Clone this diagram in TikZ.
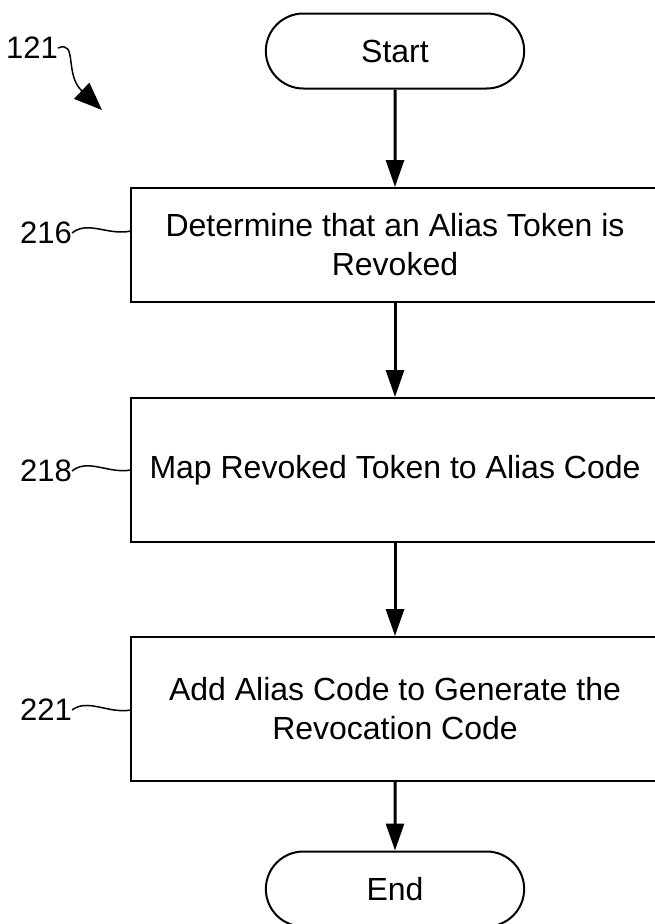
\documentclass[tikz,border=0pt]{standalone}
\usepackage{fontspec}
\setmainfont{Liberation Sans}
\usetikzlibrary{arrows.meta,shapes.misc}

\tikzset{
  terminal/.style={rounded rectangle, draw, line width=2pt, minimum width=265pt, minimum height=75pt, font=\fontsize{32}{38}\selectfont},
  process/.style={rectangle, draw, line width=2pt, minimum width=528pt, align=center, font=\fontsize{32}{39}\selectfont},
  flow/.style={-{Triangle[width=18pt,length=27pt]}, line width=3pt},
  refnum/.style={inner sep=0pt, anchor=east, font=\fontsize{31}{36}\selectfont},
  leader/.style={line width=1.5pt}
}

\begin{document}
\begin{tikzpicture}[x=1pt,y=-1pt]
  \useasboundingbox (0,0) rectangle (655,924);
% the steps of the flow
  \node[terminal] (start) at (395,51)    {Start};
  \node[process, minimum height=114pt] (determine) at (395,245) {Determine that an Alias Token is\\Revoked};
  \node[process, minimum height=144pt] (map) at (395,470) {Map Revoked Token to Alias Code};
  \node[process, minimum height=144pt] (add) at (395,709) {Add Alias Code to Generate the\\Revocation Code};
  \node[terminal] (end) at (395,889)    {End};

% reference numerals
  \node[refnum] (n121) at (58,48)  {121};
  \node[refnum] (n216) at (72,233) {216};
  \node[refnum] (n218) at (72,471) {218};
  \node[refnum] (n221) at (72,710) {221};
  \coordinate (t121) at (102,110);
  \coordinate (l216) at (131,231);
  \coordinate (l218) at (131,470);
  \coordinate (l221) at (131,710);

% the links
  \draw[flow] (start) -- (determine);
  \draw[flow] (determine) -- (map);
  \draw[flow] (map) -- (add);
  \draw[flow] (add) -- (end);

  \draw[leader, -{Triangle[width=22pt,length=28pt]}] (n121.east) .. controls (78,40) and (64,74) .. (t121);
  \draw[leader] (n216.east) .. controls (88,220) and (108,236) .. (l216);
  \draw[leader] (n218.east) .. controls (88,458) and (108,474) .. (l218);
  \draw[leader] (n221.east) .. controls (88,698) and (108,714) .. (l221);
\end{tikzpicture}
\end{document}
